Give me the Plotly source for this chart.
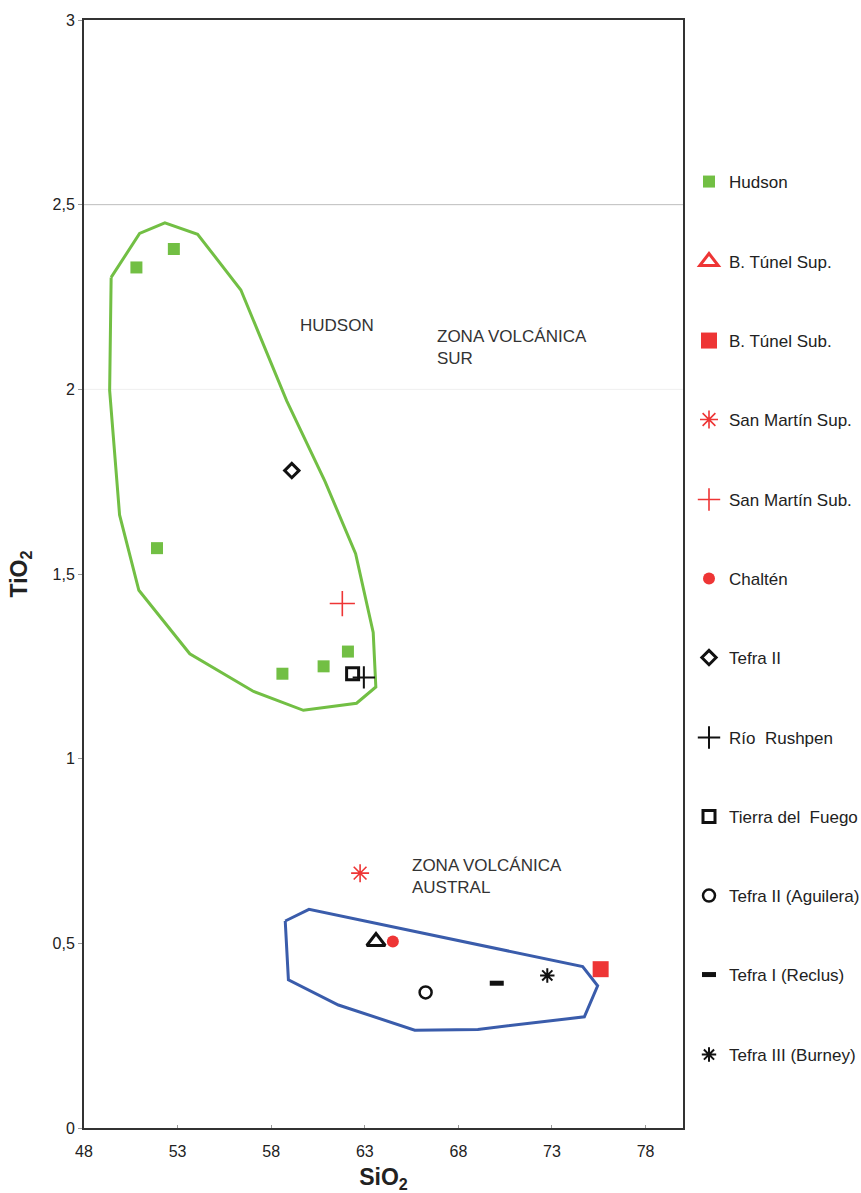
import plotly.graph_objects as go

# ---- data ----
HUDSON_SIO2 = [50.8, 52.8, 51.9, 58.6, 60.8, 62.1]
HUDSON_TIO2 = [2.33, 2.38, 1.57, 1.23, 1.25, 1.29]

SERIES = [
    # name, SiO2, TiO2
    ("B. Túnel Sup.", [63.6], [0.505]),
    ("B. Túnel Sub.", [75.6], [0.43]),
    ("San Martín Sup.", [62.75], [0.69]),
    ("San Martín Sub.", [61.8], [1.42]),
    ("Chaltén", [64.5], [0.505]),
    ("Tefra II", [59.1], [1.78]),
    ("Río  Rushpen", [62.95], [1.22]),
    ("Tierra del  Fuego", [62.35], [1.23]),
    ("Tefra II (Aguilera)", [66.25], [0.367]),
    ("Tefra I (Reclus)", [70.05], [0.392]),
    ("Tefra III (Burney)", [72.75], [0.413]),
]

HUDSON_FIELD_SIO2 = [49.45, 50.97, 52.32, 54.07, 56.38, 58.83, 60.88, 62.51, 63.45, 63.59,
                     62.56, 59.72, 57.06, 53.65, 50.93, 49.90, 49.37, 49.45]
HUDSON_FIELD_TIO2 = [2.303, 2.422, 2.451, 2.420, 2.269, 1.969, 1.750, 1.555, 1.342, 1.194,
                     1.150, 1.131, 1.182, 1.284, 1.456, 1.660, 1.997, 2.303]

ZVA_FIELD_SIO2 = [58.75, 60.02, 74.64, 75.44, 74.73, 69.04, 65.67, 61.59, 58.92, 58.75]
ZVA_FIELD_TIO2 = [0.5605, 0.592, 0.437, 0.385, 0.301, 0.267, 0.265, 0.333, 0.401, 0.5605]

LABELS = [
    ("HUDSON", 59.45, 2.172),
    ("ZONA VOLCÁNICA<br>SUR", 66.75, 2.112),
    ("ZONA VOLCÁNICA<br>AUSTRAL", 65.42, 0.682),
]

X_TICKS = [48, 53, 58, 63, 68, 73, 78]
Y_TICKS = [0, 0.5, 1, 1.5, 2, 2.5, 3]
X_RANGE = [48, 80]
Y_RANGE = [0, 3]
GRID_LINES = [(2.5, "#BDBDBD"), (2.0, "#EFEFEF")]

LEGEND_ORDER = ["Hudson", "B. Túnel Sup.", "B. Túnel Sub.", "San Martín Sup.", "San Martín Sub.",
                "Chaltén", "Tefra II", "Río  Rushpen", "Tierra del  Fuego", "Tefra II (Aguilera)",
                "Tefra I (Reclus)", "Tefra III (Burney)"]
LEGEND_Y_PX = [182, 262, 341, 420, 500, 579, 658, 738, 817, 896, 975, 1055]

# ---- styles ----
GREEN = "#72BF44"
RED = "#EE3535"
BLACK = "#111111"
BLUE = "#3A5CAB"
FONT = "Liberation Sans, Arial, sans-serif"

STYLE = {
    "Hudson": dict(symbol="square", size=12, color=GREEN),
    "B. Túnel Sup.": dict(symbol="triangle-up-open", size=16, color=RED, line=dict(width=3, color=RED)),
    "B. Túnel Sub.": dict(symbol="square", size=16, color=RED),
    "San Martín Sup.": dict(symbol="asterisk-open", size=15, color=RED, line=dict(width=1.6, color=RED)),
    "San Martín Sub.": dict(symbol="cross-thin-open", size=18, color=RED, line=dict(width=1.6, color=RED)),
    "Chaltén": dict(symbol="circle", size=12, color=RED),
    "Tefra II": dict(symbol="diamond-open", size=11, color=BLACK, line=dict(width=3, color=BLACK)),
    "Río  Rushpen": dict(symbol="cross-thin-open", size=16, color=BLACK, line=dict(width=2, color=BLACK)),
    "Tierra del  Fuego": dict(symbol="square-open", size=12, color=BLACK, line=dict(width=3, color=BLACK)),
    "Tefra II (Aguilera)": dict(symbol="circle-open", size=12, color=BLACK, line=dict(width=2.5, color=BLACK)),
    "Tefra I (Reclus)": dict(symbol="line-ew-open", size=10, color=BLACK, line=dict(width=5, color=BLACK)),
    "Tefra III (Burney)": dict(symbol="asterisk-open", size=12, color=BLACK, line=dict(width=2, color=BLACK)),
}

PLOT_LEFT, PLOT_RIGHT = 84, 683
PLOT_TOP, PLOT_BOTTOM = 20, 1128
legend_idx = {name: i for i, name in enumerate(LEGEND_ORDER)}


def legend_key(i):
    return "legend" if i == 0 else f"legend{i + 1}"


fig = go.Figure()

# fields
fig.add_trace(go.Scatter(x=HUDSON_FIELD_SIO2, y=HUDSON_FIELD_TIO2, mode="lines",
                         line=dict(color=GREEN, width=3), showlegend=False, hoverinfo="skip"))
fig.add_trace(go.Scatter(x=ZVA_FIELD_SIO2, y=ZVA_FIELD_TIO2, mode="lines",
                         line=dict(color=BLUE, width=3), showlegend=False, hoverinfo="skip"))

# Hudson samples
fig.add_trace(go.Scatter(x=HUDSON_SIO2, y=HUDSON_TIO2, mode="markers", name="Hudson",
                         marker=STYLE["Hudson"], legend=legend_key(legend_idx["Hudson"])))

for name, xs, ys in SERIES:
    st = STYLE[name]
    if name == "B. Túnel Sup.":
        # point drawn in black on the plot, red symbol in legend
        black = dict(st)
        black["color"] = BLACK
        black["line"] = dict(width=3, color=BLACK)
        fig.add_trace(go.Scatter(x=xs, y=ys, mode="markers", marker=black, showlegend=False))
        fig.add_trace(go.Scatter(x=[None], y=[None], mode="markers", name=name, marker=st,
                                 legend=legend_key(legend_idx[name])))
    else:
        fig.add_trace(go.Scatter(x=xs, y=ys, mode="markers", name=name, marker=st,
                                 legend=legend_key(legend_idx[name])))

# multiple legends, one per entry
legend_x = (689 - PLOT_LEFT) / (PLOT_RIGHT - PLOT_LEFT)
legends = {}
for i, ypx in enumerate(LEGEND_Y_PX):
    legends[legend_key(i)] = dict(
        x=legend_x, xanchor="left", xref="paper",
        y=(PLOT_BOTTOM - ypx) / (PLOT_BOTTOM - PLOT_TOP), yanchor="middle", yref="paper",
        font=dict(family=FONT, size=17, color="#222222"),
        bgcolor="rgba(0,0,0,0)", itemwidth=30, borderwidth=0,
    )

shapes = []
for yv, col in GRID_LINES:
    shapes.append(dict(type="line", xref="paper", x0=0, x1=1, yref="y", y0=yv, y1=yv,
                       line=dict(color=col, width=1), layer="below"))

annotations = []
for text, xv, yv in LABELS:
    annotations.append(dict(x=xv, y=yv, text=text, showarrow=False, xanchor="left", yanchor="middle",
                            align="left", font=dict(family=FONT, size=17, color="#333333")))

fig.update_layout(
    width=861, height=1193,
    margin=dict(l=PLOT_LEFT, r=861 - PLOT_RIGHT, t=PLOT_TOP, b=1193 - PLOT_BOTTOM, autoexpand=False),
    paper_bgcolor="white", plot_bgcolor="white",
    separators=", ",
    font=dict(family=FONT, size=16, color="#222222"),
    shapes=shapes, annotations=annotations,
    **legends,
)
fig.update_xaxes(range=X_RANGE, tickvals=X_TICKS, showgrid=False, zeroline=False, automargin=False,
                 showline=True, linecolor="#333333", linewidth=2, mirror=True,
                 ticks="inside", ticklen=3, tickcolor="#999999", ticklabelstandoff=8,
                 tickfont=dict(family=FONT, size=16, color="#222222"),
                 title=dict(text="<b>SiO<sub>2</sub></b>", font=dict(family=FONT, size=23, color="#222222"),
                            standoff=14))
fig.update_yaxes(range=Y_RANGE, tickvals=Y_TICKS, showgrid=False, zeroline=False, automargin=False,
                 showline=True, linecolor="#333333", linewidth=2, mirror=True,
                 ticks="outside", ticklen=4, tickcolor="#999999",
                 tickfont=dict(family=FONT, size=16, color="#222222"),
                 title=dict(text="<b>TiO<sub>2</sub></b>", font=dict(family=FONT, size=23, color="#222222"),
                            standoff=18))

fig.write_html("out.html", config={"displayModeBar": False},
               post_script="document.body.style.margin='0';")
